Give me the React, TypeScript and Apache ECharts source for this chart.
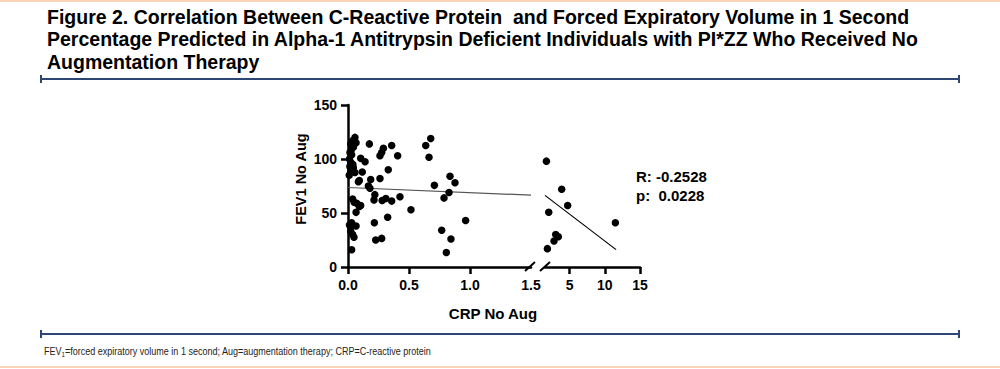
import React, { useEffect, useRef } from "react";
import * as echarts from "echarts";

// CRP (mg/dL) vs FEV1 % predicted, low CRP range (0 – 1.5)
const crpLow = [
  0.057, 0.038, 0.022, 0.066, 0.03, 0.016, 0.175, 0.022, 0.044, 0.022, 0.057,
  0.104, 0.14, 0.117, 0.093, 0.085, 0.167, 0.18, 0.186, 0.276, 0.29, 0.262,
  0.358, 0.33, 0.262, 0.407, 0.22, 0.213, 0.28, 0.31, 0.358, 0.426, 0.516,
  0.038, 0.071, 0.093, 0.104, 0.066, 0.216, 0.325, 0.227, 0.276, 0.03, 0.022,
  0.066, 0.038, 0.049, 0.022, 0.03, 0.637, 0.678, 0.664, 0.708, 0.787, 0.828,
  0.836, 0.877, 0.768, 0.844, 0.806, 0.964, 0.012, 0.015, 0.03, 0.045, 0.01,
  0.05, 0.012, 0.04,
];
const fevLow = [
  120, 117, 114, 115, 109, 106, 114, 97, 92, 89, 87.5, 100.6, 97.5, 88, 80, 79,
  75, 73, 81, 106, 110, 103, 112.5, 90, 82, 103, 67, 62, 61.6, 63.4, 61, 65, 53,
  63, 59, 56, 57, 50.6, 41, 46, 25, 26.5, 41, 37, 38, 30, 27.5, 33, 16, 112.5,
  119, 101.6, 75.6, 64, 69, 84, 78, 34, 26, 13.4, 43, 100, 93, 104, 111, 85, 60,
  39, 95,
];
// high CRP range (1.5 – 15)
const crpHigh = [1.7, 3.87, 4.72, 2.03, 11.5, 3.02, 3.4, 2.78, 1.84];
const fevHigh = [98, 72, 57, 50.7, 41, 30, 28, 24, 17];

// regression line, read at the ends of each segment
const fitLowX = [0, 1.5];
const fitLowY = [73.6, 66.5];
const fitHighX = [1.5, 11.6];
const fitHighY = [66.3, 16.1];

const xTicksLow = [0, 0.5, 1.0, 1.5];
const xTickMarksLow = [0, 0.5, 1.0];
const xTicksHigh = [5, 10, 15];
const yTicks = [0, 50, 100, 150];

const titleLines = [
  "Figure 2. Correlation Between C-Reactive Protein  and Forced Expiratory Volume in 1 Second",
  "Percentage Predicted in Alpha-1 Antitrypsin Deficient Individuals with PI*ZZ Who Received No",
  "Augmentation Therapy",
];
const statLines = ["R: -0.2528", "p:  0.0228"];
const xName = "CRP No Aug";
const yName = "FEV1 No Aug";

const ARIAL = "'Liberation Sans', Arial, Helvetica, sans-serif";
const NAVY = "#2d4674";
const PEACH = "#fbd2b6";

export default function App() {
  const ref = useRef<HTMLDivElement>(null);

  useEffect(() => {
    document.body.style.margin = "0";
    if (!ref.current) return;
    const chart = echarts.init(ref.current, undefined, { renderer: "svg" });

    const tickFont = {
      fontFamily: ARIAL,
      fontWeight: "bold" as const,
      fontSize: 14,
      color: "#000",
    };
    const axisLine = { show: true, lineStyle: { color: "#000", width: 2.5 } };
    const axisTickBase = { show: true, length: 7, lineStyle: { color: "#000", width: 2.5 } };

    const graphic: any[] = [];
    // peach rules top & bottom
    graphic.push({ type: "rect", shape: { x: 0, y: 0, width: 1000, height: 2 }, style: { fill: PEACH } });
    graphic.push({ type: "rect", shape: { x: 0, y: 366, width: 1000, height: 2 }, style: { fill: PEACH } });
    // title
    titleLines.forEach((t, i) => {
      graphic.push({
        type: "text",
        x: 47,
        y: 16.5 + i * 22.7,
        style: {
          text: t,
          fontFamily: ARIAL,
          fontWeight: "bold",
          fontSize: 19.5,
          fill: "#000",
          verticalAlign: "middle",
        },
      });
    });
    // dividers with end caps
    const divider = (y: number, x0: number, x1: number) => {
      graphic.push({ type: "line", shape: { x1: x0, y1: y, x2: x1, y2: y }, style: { stroke: NAVY, lineWidth: 2 } });
      graphic.push({ type: "line", shape: { x1: x0, y1: y - 4, x2: x0, y2: y + 4 }, style: { stroke: NAVY, lineWidth: 2 } });
      graphic.push({ type: "line", shape: { x1: x1, y1: y - 4, x2: x1, y2: y + 4 }, style: { stroke: NAVY, lineWidth: 2 } });
    };
    divider(79, 41, 959);
    divider(334, 41, 959);
    // footnote
    graphic.push({
      type: "text",
      x: 44,
      y: 351,
      scaleX: 0.82,
      style: {
        text: "{a|FEV}{s|1}{a|=forced expiratory volume in 1 second; Aug=augmentation therapy; CRP=C-reactive protein}",
        verticalAlign: "middle",
        rich: {
          a: { fontFamily: ARIAL, fontSize: 11, fill: "#222" },
          s: { fontFamily: ARIAL, fontSize: 7.5, fill: "#222", verticalAlign: "bottom", padding: [6, 0, 0, 0] },
        },
      },
    });
    // axis break marks
    graphic.push({ type: "line", shape: { x1: 525, y1: 271, x2: 535, y2: 262 }, style: { stroke: "#000", lineWidth: 2 } });
    graphic.push({ type: "line", shape: { x1: 540, y1: 271, x2: 550, y2: 262 }, style: { stroke: "#000", lineWidth: 2 } });
    // axis titles
    graphic.push({
      type: "text",
      x: 493,
      y: 313,
      style: { text: xName, fontFamily: ARIAL, fontWeight: "bold", fontSize: 15, fill: "#000", align: "center", verticalAlign: "middle" },
    });
    graphic.push({
      type: "text",
      x: 301,
      y: 179,
      rotation: Math.PI / 2,
      style: { text: yName, fontFamily: ARIAL, fontWeight: "bold", fontSize: 14.5, fill: "#000", align: "center", verticalAlign: "middle" },
    });
    // stats
    statLines.forEach((t, i) => {
      graphic.push({
        type: "text",
        x: 636,
        y: 176 + i * 19,
        style: { text: t, fontFamily: ARIAL, fontWeight: "bold", fontSize: 15, fill: "#000", verticalAlign: "middle" },
      });
    });

    chart.setOption({
      animation: false,
      backgroundColor: "#fff",
      grid: [
        { left: 348, top: 105, width: 183, height: 162 },
        { left: 545, top: 105, width: 95, height: 162 },
      ],
      xAxis: [
        {
          gridIndex: 0,
          type: "value",
          min: 0,
          max: 1.5,
          interval: 0.5,
          axisLine,
          axisTick: { ...axisTickBase, customValues: xTickMarksLow },
          axisLabel: { ...tickFont, margin: 11, customValues: xTicksLow, formatter: (v: number) => v.toFixed(1) },
          splitLine: { show: false },
        },
        {
          gridIndex: 1,
          type: "value",
          min: 1.5,
          max: 15,
          axisLine,
          axisTick: { ...axisTickBase, customValues: xTicksHigh },
          axisLabel: { ...tickFont, margin: 11, customValues: xTicksHigh },
          splitLine: { show: false },
        },
      ],
      yAxis: [
        {
          gridIndex: 0,
          type: "value",
          min: 0,
          max: 150,
          interval: 50,
          axisLine,
          axisTick: { ...axisTickBase, customValues: yTicks },
          axisLabel: { ...tickFont, margin: 11, customValues: yTicks },
          splitLine: { show: false },
        },
        { gridIndex: 1, type: "value", min: 0, max: 150, show: false, splitLine: { show: false } },
      ],
      series: [
        {
          type: "line",
          xAxisIndex: 0,
          yAxisIndex: 0,
          data: fitLowX.map((x, i) => [x, fitLowY[i]]),
          showSymbol: false,
          symbol: "none",
          lineStyle: { color: "#555", width: 1.2 },
          z: 1,
        },
        {
          type: "line",
          xAxisIndex: 1,
          yAxisIndex: 1,
          data: fitHighX.map((x, i) => [x, fitHighY[i]]),
          showSymbol: false,
          symbol: "none",
          lineStyle: { color: "#000", width: 1.2 },
          z: 1,
        },
        {
          type: "scatter",
          xAxisIndex: 0,
          yAxisIndex: 0,
          data: crpLow.map((x, i) => [x, fevLow[i]]),
          symbolSize: 7.5,
          itemStyle: { color: "#000", opacity: 1 },
          clip: false,
          z: 3,
        },
        {
          type: "scatter",
          xAxisIndex: 1,
          yAxisIndex: 1,
          data: crpHigh.map((x, i) => [x, fevHigh[i]]),
          symbolSize: 7.5,
          itemStyle: { color: "#000", opacity: 1 },
          clip: false,
          z: 3,
        },
      ],
      graphic,
    });

    return () => chart.dispose();
  }, []);

  return <div ref={ref} style={{ width: 1000, height: 369 }} />;
}
